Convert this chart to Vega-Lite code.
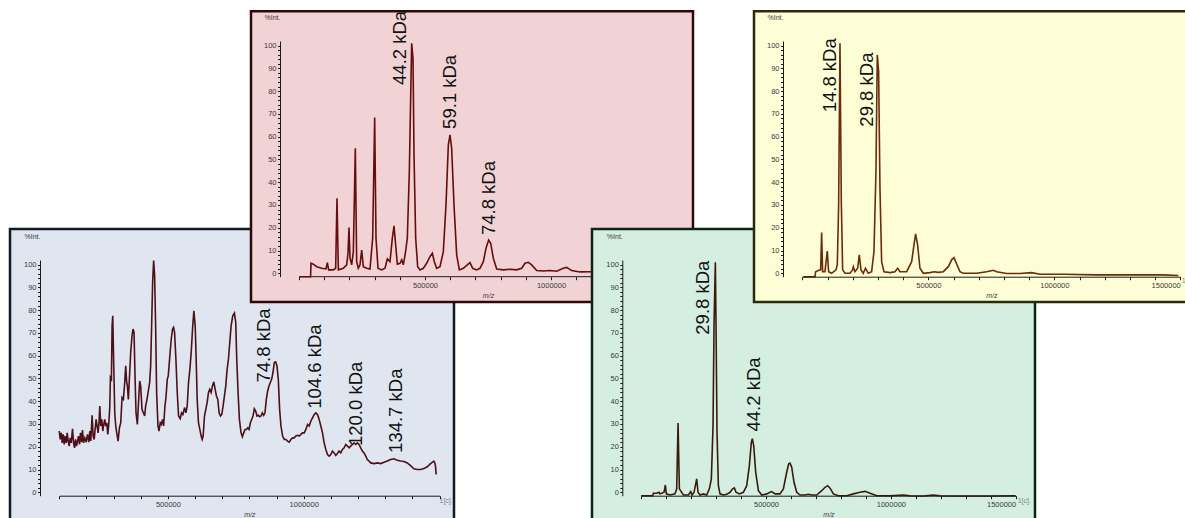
{
"$schema": "https://vega.github.io/schema/vega-lite/v6.json",
"background": "white",
"width": 1185, "height": 508, "autosize": "none",
"padding": {"left": 0, "top": 10, "right": 0, "bottom": 0},
"config": {"font": "Liberation Sans", "view": {"stroke": null},
 "axis": {"domainColor": "#1a1a1a", "tickColor": "#1a1a1a", "domainWidth": 1, "tickWidth": 1, "labelFontSize": 7.5, "labelColor": "#3a3a3a", "labelFont": "Liberation Sans", "grid": false, "titleFontWeight": "normal", "titleColor": "#3a3a3a", "titleFontSize": 7, "titleFont": "Liberation Sans"}},
"datasets": {
 "one": [{}],
 "pink": [{"mz":1300,"i":-1.5},{"mz":46000,"i":-1.5},{"mz":47600,"i":4.4},{"mz":56900,"i":4.0},{"mz":70100,"i":2.9},{"mz":89900,"i":2.2},{"mz":107100,"i":1.9},{"mz":112400,"i":4.7},{"mz":117700,"i":1.5},{"mz":136200,"i":1.5},{"mz":145500,"i":2.2},{"mz":150800,"i":32.9},{"mz":156100,"i":1.5},{"mz":175900,"i":2.2},{"mz":189200,"i":3.7},{"mz":194400,"i":8.8},{"mz":198400,"i":20.1},{"mz":202400,"i":6.6},{"mz":209000,"i":3.7},{"mz":215600,"i":9.5},{"mz":223500,"i":54.9},{"mz":228800,"i":5.1},{"mz":235400,"i":2.2},{"mz":242100,"i":3.7},{"mz":248700,"i":10.2},{"mz":255300,"i":2.9},{"mz":268500,"i":2.2},{"mz":281700,"i":1.9},{"mz":292300,"i":15.4},{"mz":300300,"i":68.4},{"mz":305600,"i":15.4},{"mz":313500,"i":2.2},{"mz":328000,"i":1.5},{"mz":341300,"i":2.2},{"mz":350500,"i":6.3},{"mz":361100,"i":5.1},{"mz":370400,"i":15.4},{"mz":377000,"i":20.8},{"mz":383600,"i":12.4},{"mz":390200,"i":4.0},{"mz":400800,"i":4.4},{"mz":407400,"i":5.9},{"mz":414000,"i":3.7},{"mz":422000,"i":8.8},{"mz":429900,"i":15.4},{"mz":437800,"i":44.7},{"mz":447100,"i":101},{"mz":452400,"i":94.4},{"mz":456400,"i":52.0},{"mz":463000,"i":15.4},{"mz":470900,"i":2.9},{"mz":480200,"i":1.5},{"mz":493400,"i":2.2},{"mz":506600,"i":4.4},{"mz":519800,"i":7.3},{"mz":529100,"i":8.8},{"mz":537000,"i":5.1},{"mz":546300,"i":2.2},{"mz":559500,"i":2.9},{"mz":572700,"i":9.5},{"mz":583300,"i":30.0},{"mz":592600,"i":56.4},{"mz":599200,"i":60.8},{"mz":605800,"i":54.9},{"mz":615100,"i":30.0},{"mz":625700,"i":8.1},{"mz":636300,"i":1.5},{"mz":652100,"i":2.2},{"mz":668000,"i":3.7},{"mz":678600,"i":4.7},{"mz":689200,"i":2.2},{"mz":705000,"i":1.5},{"mz":718200,"i":2.2},{"mz":731500,"i":5.1},{"mz":742100,"i":11.0},{"mz":752600,"i":14.6},{"mz":760600,"i":13.2},{"mz":771200,"i":6.6},{"mz":784400,"i":1.9},{"mz":810900,"i":1.5},{"mz":837300,"i":1.8},{"mz":863800,"i":1.5},{"mz":883600,"i":2.2},{"mz":896800,"i":4.4},{"mz":910100,"i":4.8},{"mz":923300,"i":3.7},{"mz":943100,"i":1.2},{"mz":969600,"i":1.0},{"mz":996000,"i":1.2},{"mz":1022500,"i":0.9},{"mz":1048900,"i":2.2},{"mz":1062200,"i":2.6},{"mz":1082000,"i":1.2},{"mz":1115100,"i":0.6},{"mz":1154800,"i":0.7},{"mz":1200000,"i":0.7},{"mz":1300000,"i":0.6},{"mz":1400000,"i":0.5},{"mz":1500000,"i":0.4}],
 "pinkLab": [{"mz":400800,"i":82.7,"t":"44.2 kDa"},{"mz":600500,"i":63.4,"t":"59.1 kDa"},{"mz":755300,"i":16.8,"t":"74.8 kDa"}],
 "yellow": [{"mz":4000,"i":-1.5},{"mz":50300,"i":-1.5},{"mz":52900,"i":0.7},{"mz":70100,"i":1.5},{"mz":72800,"i":1.5},{"mz":76700,"i":17.9},{"mz":80700,"i":0.7},{"mz":89900,"i":0.7},{"mz":99200,"i":9.8},{"mz":104500,"i":0.7},{"mz":116400,"i":0},{"mz":133600,"i":1.5},{"mz":138900,"i":3.7},{"mz":144200,"i":30},{"mz":149500,"i":101},{"mz":154800,"i":31.5},{"mz":160100,"i":1.5},{"mz":169300,"i":0},{"mz":189200,"i":0},{"mz":199700,"i":1.5},{"mz":202400,"i":2.9},{"mz":209000,"i":0.7},{"mz":219600,"i":2.2},{"mz":226200,"i":8.1},{"mz":232800,"i":1.5},{"mz":242100,"i":0},{"mz":250600,"i":2.2},{"mz":261900,"i":0},{"mz":275100,"i":0.7},{"mz":284400,"i":9.5},{"mz":292300,"i":44.7},{"mz":297600,"i":95.9},{"mz":302900,"i":88.6},{"mz":308200,"i":37.3},{"mz":314800,"i":5.1},{"mz":324100,"i":0.7},{"mz":347900,"i":0.3},{"mz":367700,"i":0.7},{"mz":378300,"i":2.2},{"mz":387600,"i":0.7},{"mz":414000,"i":0.7},{"mz":433900,"i":5.1},{"mz":443100,"i":12.4},{"mz":449700,"i":17.3},{"mz":457700,"i":12.4},{"mz":466900,"i":2.2},{"mz":480200,"i":0},{"mz":506600,"i":0.3},{"mz":522500,"i":0.7},{"mz":539700,"i":0.4},{"mz":559500,"i":0.7},{"mz":579400,"i":2.9},{"mz":592600,"i":5.9},{"mz":601900,"i":6.9},{"mz":611300,"i":4.4},{"mz":625700,"i":0.7},{"mz":638900,"i":0},{"mz":691800,"i":0},{"mz":731500,"i":0.7},{"mz":757900,"i":1.3},{"mz":771200,"i":0.7},{"mz":810900,"i":-0.1},{"mz":863800,"i":-0.1},{"mz":910100,"i":0.3},{"mz":943100,"i":-0.4},{"mz":1035700,"i":-0.4},{"mz":1168000,"i":-0.7},{"mz":1300300,"i":-0.7},{"mz":1432600,"i":-0.7},{"mz":1492100,"i":-1.0}],
 "yellowLab": [{"mz":111100,"i":70.7,"t":"14.8 kDa"},{"mz":256600,"i":64.4,"t":"29.8 kDa"}],
 "blue": [{"mz":99800,"i":26.9},{"mz":103400,"i":23.2},{"mz":107100,"i":26.1},{"mz":110800,"i":21.7},{"mz":114400,"i":25.4},{"mz":118100,"i":21.0},{"mz":121800,"i":24.7},{"mz":125500,"i":21.7},{"mz":129100,"i":26.1},{"mz":132800,"i":22.5},{"mz":136500,"i":20.3},{"mz":140100,"i":23.9},{"mz":143800,"i":21.7},{"mz":148700,"i":27.9},{"mz":152400,"i":21.7},{"mz":156100,"i":19.5},{"mz":159700,"i":23.2},{"mz":163400,"i":20.3},{"mz":167100,"i":22.5},{"mz":170700,"i":24.7},{"mz":174400,"i":21.0},{"mz":178100,"i":26.1},{"mz":181800,"i":22.0},{"mz":185400,"i":27.3},{"mz":189100,"i":21.7},{"mz":194000,"i":23.9},{"mz":198900,"i":22.0},{"mz":203800,"i":25.4},{"mz":208700,"i":22.0},{"mz":212400,"i":26.9},{"mz":216000,"i":22.5},{"mz":220900,"i":33.8},{"mz":224600,"i":24.7},{"mz":228300,"i":23.2},{"mz":231900,"i":27.6},{"mz":235600,"i":32.0},{"mz":239300,"i":29.1},{"mz":243000,"i":26.1},{"mz":246600,"i":31.3},{"mz":249100,"i":37.9},{"mz":252800,"i":29.1},{"mz":256400,"i":32.0},{"mz":260100,"i":26.9},{"mz":263800,"i":29.8},{"mz":267400,"i":32.0},{"mz":271100,"i":29.1},{"mz":274800,"i":30.5},{"mz":278500,"i":25.4},{"mz":282100,"i":29.8},{"mz":285800,"i":37.2},{"mz":288200,"i":50.4},{"mz":291900,"i":49.6},{"mz":294400,"i":73.1},{"mz":296800,"i":77.5},{"mz":300500,"i":55.5},{"mz":304200,"i":34.9},{"mz":307800,"i":29.1},{"mz":311500,"i":26.1},{"mz":316400,"i":22.5},{"mz":321300,"i":28.3},{"mz":326200,"i":30.5},{"mz":331100,"i":41.6},{"mz":336000,"i":40.8},{"mz":340900,"i":48.2},{"mz":344600,"i":55.5},{"mz":348200,"i":48.2},{"mz":350700,"i":46.7},{"mz":354300,"i":40.8},{"mz":358000,"i":49.6},{"mz":362900,"i":61.4},{"mz":367800,"i":68.7},{"mz":371500,"i":71.7},{"mz":375200,"i":70.2},{"mz":378800,"i":51.1},{"mz":382500,"i":34.9},{"mz":387400,"i":29.8},{"mz":392300,"i":40.8},{"mz":396000,"i":48.9},{"mz":399600,"i":46.7},{"mz":404500,"i":36.4},{"mz":409400,"i":34.9},{"mz":414300,"i":33.5},{"mz":418000,"i":37.9},{"mz":422900,"i":40.8},{"mz":427800,"i":44.5},{"mz":432700,"i":48.2},{"mz":436400,"i":55.5},{"mz":440000,"i":73.1},{"mz":443700,"i":92.2},{"mz":447400,"i":101.8},{"mz":451000,"i":95.2},{"mz":454700,"i":73.1},{"mz":458400,"i":43.8},{"mz":463300,"i":29.1},{"mz":467000,"i":26.9},{"mz":471800,"i":30.5},{"mz":475500,"i":29.8},{"mz":480400,"i":32.0},{"mz":484100,"i":29.1},{"mz":489000,"i":37.9},{"mz":492700,"i":41.6},{"mz":497600,"i":49.6},{"mz":501200,"i":51.1},{"mz":506100,"i":58.4},{"mz":512200,"i":67.3},{"mz":517100,"i":71.7},{"mz":520800,"i":72.4},{"mz":524500,"i":70.2},{"mz":529400,"i":58.4},{"mz":534300,"i":43.8},{"mz":539200,"i":33.5},{"mz":545300,"i":32.3},{"mz":550200,"i":34.9},{"mz":555100,"i":34.2},{"mz":561200,"i":37.2},{"mz":566100,"i":34.9},{"mz":571000,"i":37.9},{"mz":575900,"i":48.2},{"mz":580800,"i":54.0},{"mz":585700,"i":61.4},{"mz":590600,"i":71.7},{"mz":595500,"i":79.7},{"mz":600400,"i":73.1},{"mz":604000,"i":58.4},{"mz":607700,"i":40.8},{"mz":612600,"i":30.5},{"mz":617500,"i":27.6},{"mz":622400,"i":24.7},{"mz":626100,"i":23.2},{"mz":629700,"i":24.7},{"mz":634600,"i":33.5},{"mz":639500,"i":36.4},{"mz":644400,"i":39.4},{"mz":649300,"i":43.8},{"mz":654200,"i":45.2},{"mz":659100,"i":43.8},{"mz":664000,"i":46.7},{"mz":668900,"i":48.5},{"mz":673800,"i":45.2},{"mz":678700,"i":42.3},{"mz":683600,"i":40.8},{"mz":688500,"i":34.9},{"mz":693400,"i":33.5},{"mz":698300,"i":34.2},{"mz":703200,"i":37.9},{"mz":708100,"i":42.3},{"mz":713000,"i":46.7},{"mz":717900,"i":54.0},{"mz":722800,"i":58.4},{"mz":727700,"i":65.8},{"mz":732600,"i":73.1},{"mz":738700,"i":77.5},{"mz":744800,"i":78.7},{"mz":749700,"i":74.6},{"mz":753400,"i":58.4},{"mz":758300,"i":43.8},{"mz":763200,"i":32.0},{"mz":769300,"i":26.1},{"mz":774200,"i":24.4},{"mz":779100,"i":26.1},{"mz":784000,"i":27.6},{"mz":788900,"i":27.6},{"mz":793800,"i":28.3},{"mz":798700,"i":27.6},{"mz":803600,"i":30.5},{"mz":808400,"i":32.0},{"mz":813300,"i":33.5},{"mz":818200,"i":36.7},{"mz":823100,"i":35.7},{"mz":828000,"i":33.5},{"mz":832900,"i":33.8},{"mz":837800,"i":33.2},{"mz":842700,"i":33.5},{"mz":847600,"i":34.9},{"mz":852500,"i":33.8},{"mz":857400,"i":34.9},{"mz":862300,"i":40.8},{"mz":867200,"i":44.5},{"mz":872100,"i":46.7},{"mz":877000,"i":48.2},{"mz":881900,"i":49.6},{"mz":886800,"i":52.6},{"mz":891700,"i":57.0},{"mz":896600,"i":57.3},{"mz":901500,"i":55.5},{"mz":906400,"i":49.6},{"mz":911300,"i":36.4},{"mz":916200,"i":29.1},{"mz":922300,"i":24.7},{"mz":928400,"i":23.2},{"mz":934500,"i":23.2},{"mz":940600,"i":22.5},{"mz":946800,"i":22.0},{"mz":952900,"i":23.2},{"mz":959000,"i":23.9},{"mz":965100,"i":23.9},{"mz":971200,"i":24.7},{"mz":977400,"i":25.0},{"mz":983500,"i":24.7},{"mz":989600,"i":25.4},{"mz":995700,"i":26.1},{"mz":1001800,"i":26.1},{"mz":1008000,"i":27.6},{"mz":1014100,"i":29.8},{"mz":1020200,"i":29.1},{"mz":1026300,"i":31.3},{"mz":1032400,"i":32.7},{"mz":1038600,"i":34.2},{"mz":1044700,"i":34.9},{"mz":1050800,"i":34.2},{"mz":1056900,"i":32.0},{"mz":1063000,"i":29.1},{"mz":1069200,"i":26.1},{"mz":1075300,"i":21.7},{"mz":1081400,"i":18.8},{"mz":1087500,"i":16.6},{"mz":1093600,"i":15.9},{"mz":1099800,"i":16.6},{"mz":1105900,"i":18.1},{"mz":1112000,"i":17.3},{"mz":1118100,"i":16.2},{"mz":1124200,"i":17.0},{"mz":1130400,"i":18.1},{"mz":1136500,"i":17.3},{"mz":1142600,"i":18.8},{"mz":1148700,"i":19.5},{"mz":1154800,"i":21.0},{"mz":1161000,"i":20.3},{"mz":1167100,"i":19.5},{"mz":1173200,"i":20.3},{"mz":1179300,"i":21.0},{"mz":1185400,"i":21.7},{"mz":1191600,"i":21.0},{"mz":1197700,"i":21.7},{"mz":1203800,"i":21.0},{"mz":1209900,"i":19.5},{"mz":1216000,"i":18.1},{"mz":1222200,"i":17.3},{"mz":1228300,"i":15.9},{"mz":1234400,"i":14.4},{"mz":1240500,"i":13.7},{"mz":1246600,"i":12.9},{"mz":1258900,"i":12.6},{"mz":1271100,"i":12.9},{"mz":1283400,"i":12.6},{"mz":1295600,"i":13.2},{"mz":1307800,"i":13.7},{"mz":1320100,"i":14.4},{"mz":1332300,"i":14.7},{"mz":1344600,"i":14.1},{"mz":1356800,"i":13.7},{"mz":1369000,"i":13.5},{"mz":1381300,"i":12.9},{"mz":1393500,"i":11.7},{"mz":1405800,"i":10.3},{"mz":1418000,"i":10.0},{"mz":1430200,"i":10.0},{"mz":1442500,"i":10.4},{"mz":1454700,"i":11.2},{"mz":1467000,"i":12.6},{"mz":1479200,"i":13.7},{"mz":1482900,"i":12.9},{"mz":1485300,"i":11.5},{"mz":1487800,"i":7.8}],
 "blueLab": [{"mz":852500,"i":48.2,"t":"74.8 kDa"},{"mz":1042200,"i":36.7,"t":"104.6 kDa"},{"mz":1194000,"i":20.3,"t":"120.0 kDa"},{"mz":1339700,"i":17.3,"t":"134.7 kDa"}],
 "green": [{"mz":0,"i":-1.5},{"mz":46100,"i":-1.5},{"mz":48700,"i":-0.4},{"mz":62100,"i":-0.4},{"mz":71400,"i":0},{"mz":75400,"i":-0.7},{"mz":82100,"i":-0.4},{"mz":91500,"i":0},{"mz":96800,"i":3.2},{"mz":100800,"i":-0.7},{"mz":115500,"i":-1.2},{"mz":135500,"i":-0.7},{"mz":142200,"i":1.5},{"mz":147600,"i":30.4},{"mz":152900,"i":1.5},{"mz":168900,"i":-1.2},{"mz":188900,"i":-1.2},{"mz":198300,"i":0.3},{"mz":203600,"i":-1.2},{"mz":211600,"i":0},{"mz":222300,"i":5.9},{"mz":227600,"i":0},{"mz":235600,"i":-1.2},{"mz":249000,"i":-0.7},{"mz":262300,"i":-1.2},{"mz":273000,"i":1.5},{"mz":281000,"i":5.9},{"mz":287700,"i":29.3},{"mz":291700,"i":73.3},{"mz":297000,"i":101},{"mz":299700,"i":73.3},{"mz":303700,"i":26.4},{"mz":309100,"i":2.9},{"mz":315700,"i":-0.7},{"mz":329100,"i":-1.2},{"mz":342400,"i":-0.9},{"mz":355800,"i":0},{"mz":366400,"i":1.5},{"mz":373100,"i":1.9},{"mz":379800,"i":0},{"mz":393200,"i":-0.7},{"mz":409200,"i":0},{"mz":422600,"i":2.9},{"mz":433200,"i":11.7},{"mz":441200,"i":22.0},{"mz":445200,"i":23.5},{"mz":450600,"i":20.5},{"mz":458600,"i":8.8},{"mz":469500,"i":0.7},{"mz":482900,"i":-1.2},{"mz":502900,"i":-0.7},{"mz":516000,"i":0},{"mz":522700,"i":0.3},{"mz":536000,"i":-0.7},{"mz":556100,"i":-0.7},{"mz":569400,"i":1.5},{"mz":582800,"i":8.8},{"mz":590800,"i":12.5},{"mz":596100,"i":12.8},{"mz":602800,"i":11.0},{"mz":612100,"i":4.4},{"mz":622800,"i":0},{"mz":636200,"i":-1.2},{"mz":656200,"i":-1.2},{"mz":669600,"i":-0.9},{"mz":683000,"i":-1.2},{"mz":703000,"i":-1.2},{"mz":723000,"i":0.7},{"mz":736400,"i":2.2},{"mz":747100,"i":2.9},{"mz":756500,"i":1.8},{"mz":769800,"i":-0.7},{"mz":789800,"i":-1.5},{"mz":823200,"i":-1.5},{"mz":849900,"i":-0.7},{"mz":876600,"i":0},{"mz":896600,"i":0.4},{"mz":916700,"i":-0.4},{"mz":943400,"i":-1.5},{"mz":996800,"i":-1.5},{"mz":1050200,"i":-1.2},{"mz":1076900,"i":-1.5},{"mz":1130000,"i":-1.6},{"mz":1170100,"i":-1.2},{"mz":1196800,"i":-1.5},{"mz":1263600,"i":-1.6},{"mz":1397100,"i":-1.6},{"mz":1500000,"i":-1.5}],
 "greenLab": [{"mz":247600,"i":69.2,"t":"29.8 kDa"},{"mz":453300,"i":26.7,"t":"44.2 kDa"}],
 "cNote": [{"mz":1500000,"i":-3.8,"t":"1[c]."}],
 "cNoteY": [{"mz":1500000,"i":-3.4,"t":"1[c]."}]
},
"resolve": {"scale": {"x": "independent", "y": "independent"}, "axis": {"x": "independent", "y": "independent"}},
"layer": [
 {"layer": [
  {"data": {"name": "one"}, "mark": {"type": "rect", "fill": "#DFE6F0", "clip": true},
   "encoding": {
    "x": {"datum": -81537, "type": "quantitative", "scale": {"domain": [100000, 1500000], "range": [59.3, 439.5], "nice": false, "zero": false},
     "axis": {"orient": "bottom", "offset": -22.3, "zindex": 1, "tickCount": 100, "labelOverlap": false, "values": [100000,200000,300000,400000,500000,600000,700000,800000,900000,1000000,1100000,1200000,1300000,1400000,1500000], "labelExpr": "datum.value % 500000 === 0 && datum.value < 1500000 ? format(datum.value, 'd') : ''", "tickSize": 3, "labelPadding": 1.5, "title": "m/z", "titleFontStyle": "italic", "titleY": 18.3, "titleBaseline": "middle"}},
    "x2": {"datum": 1553404},
    "y": {"datum": 115.61, "type": "quantitative", "scale": {"domain": [-1.5, 102], "range": [485.7, 250], "nice": false, "zero": false},
     "axis": {"orient": "left", "offset": -40, "zindex": 1, "tickCount": 100, "labelOverlap": false, "values": [0,2,4,6,8,10,12,14,16,18,20,22,24,26,28,30,32,34,36,38,40,42,44,46,48,50,52,54,56,58,60,62,64,66,68,70,72,74,76,78,80,82,84,86,88,90,92,94,96,98,100], "labelExpr": "datum.value % 10 === 0 ? format(datum.value, 'd') : ''", "tickSize": 2.5, "labelPadding": 1.5, "title": "%Int.", "titleAngle": 0, "titleAlign": "right", "titleBaseline": "middle", "titleX": 0, "titleY": 226.7}},
    "y2": {"datum": -20.95}}},
  {"data": {"name": "blue"}, "mark": {"type": "line", "color": "#4d1018", "strokeWidth": 1.6},
   "encoding": {"x": {"field": "mz", "type": "quantitative"}, "y": {"field": "i", "type": "quantitative"}}},
  {"data": {"name": "blueLab"}, "mark": {"type": "text", "angle": 270, "align": "left", "baseline": "middle", "fontSize": 18.5, "color": "#111111", "clip": true},
   "encoding": {"x": {"field": "mz", "type": "quantitative"}, "y": {"field": "i", "type": "quantitative"}, "text": {"field": "t"}}},
  {"data": {"name": "cNote"}, "mark": {"type": "text", "align": "left", "baseline": "middle", "fontSize": 7, "color": "#7a8590", "clip": true},
   "encoding": {"x": {"field": "mz", "type": "quantitative"}, "y": {"field": "i", "type": "quantitative"}, "text": {"field": "t"}}},
  {"data": {"name": "one"}, "mark": {"type": "rect", "fill": null, "stroke": "#121a24", "strokeWidth": 2.5, "clip": true},
   "encoding": {"x": {"datum": -81537, "type": "quantitative"}, "x2": {"datum": 1553404}, "y": {"datum": 115.61, "type": "quantitative"}, "y2": {"datum": -20.95}}}
 ]},
 {"layer": [
  {"data": {"name": "one"}, "mark": {"type": "rect", "fill": "#F2D3D5", "clip": true},
   "encoding": {
    "x": {"datum": -190476, "type": "quantitative", "scale": {"domain": [0, 1500000], "range": [299, 677], "nice": false, "zero": false},
     "axis": {"orient": "bottom", "offset": -241.3, "zindex": 1, "tickCount": 100, "domain": false, "labelOverlap": false, "values": [0,100000,200000,300000,400000,500000,600000,700000,800000,900000,1000000,1100000], "labelExpr": "datum.value > 0 && datum.value % 500000 === 0 ? format(datum.value, 'd') : ''", "tickSize": 3, "labelPadding": 1.5, "title": "m/z", "titleFontStyle": "italic", "titleY": 18.3, "titleBaseline": "middle"}},
    "x2": {"datum": 1563492},
    "y": {"datum": 115.09, "type": "quantitative", "scale": {"domain": [-1.5, 102], "range": [266.7, 31], "nice": false, "zero": false},
     "axis": {"orient": "left", "offset": -280, "zindex": 1, "tickCount": 100, "labelOverlap": false, "values": [0,2,4,6,8,10,12,14,16,18,20,22,24,26,28,30,32,34,36,38,40,42,44,46,48,50,52,54,56,58,60,62,64,66,68,70,72,74,76,78,80,82,84,86,88,90,92,94,96,98,100], "labelExpr": "datum.value % 10 === 0 ? format(datum.value, 'd') : ''", "tickSize": 2.5, "labelPadding": 1.5, "title": "%Int.", "titleAngle": 0, "titleAlign": "right", "titleBaseline": "middle", "titleX": 0, "titleY": 7.7}},
    "y2": {"datum": -12.61}}},
  {"data": {"name": "one"}, "mark": {"type": "rule", "color": "#1a1a1a", "strokeWidth": 1},
   "encoding": {"x": {"datum": 0, "type": "quantitative"}, "x2": {"datum": 1500000}, "y": {"datum": -1.5, "type": "quantitative"}}},
  {"data": {"name": "pink"}, "mark": {"type": "line", "color": "#680c0c", "strokeWidth": 1.6},
   "encoding": {"x": {"field": "mz", "type": "quantitative"}, "y": {"field": "i", "type": "quantitative"}}},
  {"data": {"name": "pinkLab"}, "mark": {"type": "text", "angle": 270, "align": "left", "baseline": "middle", "fontSize": 18.5, "color": "#111111", "clip": true},
   "encoding": {"x": {"field": "mz", "type": "quantitative"}, "y": {"field": "i", "type": "quantitative"}, "text": {"field": "t"}}},
  {"data": {"name": "one"}, "mark": {"type": "rect", "fill": null, "stroke": "#2e0808", "strokeWidth": 2.5, "clip": true},
   "encoding": {"x": {"datum": -190476, "type": "quantitative"}, "x2": {"datum": 1563492}, "y": {"datum": 115.09, "type": "quantitative"}, "y2": {"datum": -12.61}}}
 ]},
 {"layer": [
  {"data": {"name": "one"}, "mark": {"type": "rect", "fill": "#D4EFE1", "clip": true},
   "encoding": {
    "x": {"datum": -197061, "type": "quantitative", "scale": {"domain": [0, 1500000], "range": [641.2, 1015.7], "nice": false, "zero": false},
     "axis": {"orient": "bottom", "offset": -22.3, "zindex": 1, "tickCount": 100, "labelOverlap": false, "labelFlush": true, "values": [0,100000,200000,300000,400000,500000,600000,700000,800000,900000,1000000,1100000,1200000,1300000,1400000,1500000], "labelExpr": "datum.value > 0 && datum.value % 500000 === 0 ? format(datum.value, 'd') : ''", "tickSize": 3, "labelPadding": 1.5, "title": "m/z", "titleFontStyle": "italic", "titleY": 18.3, "titleBaseline": "middle"}},
    "x2": {"datum": 1577287},
    "y": {"datum": 115.61, "type": "quantitative", "scale": {"domain": [-1.5, 102], "range": [485.7, 250], "nice": false, "zero": false},
     "axis": {"orient": "left", "offset": -622.3, "zindex": 1, "tickCount": 100, "labelOverlap": false, "values": [0,2,4,6,8,10,12,14,16,18,20,22,24,26,28,30,32,34,36,38,40,42,44,46,48,50,52,54,56,58,60,62,64,66,68,70,72,74,76,78,80,82,84,86,88,90,92,94,96,98,100], "labelExpr": "datum.value % 10 === 0 ? format(datum.value, 'd') : ''", "tickSize": 2.5, "labelPadding": 1.5, "title": "%Int.", "titleAngle": 0, "titleAlign": "right", "titleBaseline": "middle", "titleX": 0, "titleY": 226.7}},
    "y2": {"datum": -20.95}}},
  {"data": {"name": "green"}, "mark": {"type": "line", "color": "#3b1a0b", "strokeWidth": 1.6},
   "encoding": {"x": {"field": "mz", "type": "quantitative"}, "y": {"field": "i", "type": "quantitative"}}},
  {"data": {"name": "greenLab"}, "mark": {"type": "text", "angle": 270, "align": "left", "baseline": "middle", "fontSize": 18.5, "color": "#111111", "clip": true},
   "encoding": {"x": {"field": "mz", "type": "quantitative"}, "y": {"field": "i", "type": "quantitative"}, "text": {"field": "t"}}},
  {"data": {"name": "cNote"}, "mark": {"type": "text", "align": "left", "baseline": "middle", "fontSize": 7, "color": "#7a8a80", "dx": 2, "clip": true},
   "encoding": {"x": {"field": "mz", "type": "quantitative"}, "y": {"field": "i", "type": "quantitative"}, "text": {"field": "t"}}},
  {"data": {"name": "one"}, "mark": {"type": "rect", "fill": null, "stroke": "#0c2416", "strokeWidth": 2.5, "clip": true},
   "encoding": {"x": {"datum": -197061, "type": "quantitative"}, "x2": {"datum": 1577287}, "y": {"datum": 115.61, "type": "quantitative"}, "y2": {"datum": -20.95}}}
 ]},
 {"layer": [
  {"data": {"name": "one"}, "mark": {"type": "rect", "fill": "#FEFED6", "clip": true},
   "encoding": {
    "x": {"datum": -191667, "type": "quantitative", "scale": {"domain": [0, 1500000], "range": [802.3, 1180.3], "nice": false, "zero": false},
     "axis": {"orient": "bottom", "offset": -241.3, "zindex": 1, "tickCount": 100, "labelOverlap": false, "labelFlush": true, "values": [0,100000,200000,300000,400000,500000,600000,700000,800000,900000,1000000,1100000,1200000,1300000,1400000,1500000], "labelExpr": "datum.value > 0 && datum.value % 500000 === 0 ? format(datum.value, 'd') : ''", "tickSize": 3, "labelPadding": 1.5, "title": "m/z", "titleFontStyle": "italic", "titleY": 18.3, "titleBaseline": "middle"}},
    "x2": {"datum": 1578175},
    "y": {"datum": 115.09, "type": "quantitative", "scale": {"domain": [-1.5, 102], "range": [266.7, 31], "nice": false, "zero": false},
     "axis": {"orient": "left", "offset": -783, "zindex": 1, "tickCount": 100, "labelOverlap": false, "values": [0,2,4,6,8,10,12,14,16,18,20,22,24,26,28,30,32,34,36,38,40,42,44,46,48,50,52,54,56,58,60,62,64,66,68,70,72,74,76,78,80,82,84,86,88,90,92,94,96,98,100], "labelExpr": "datum.value % 10 === 0 ? format(datum.value, 'd') : ''", "tickSize": 2.5, "labelPadding": 1.5, "title": "%Int.", "titleAngle": 0, "titleAlign": "right", "titleBaseline": "middle", "titleX": 0, "titleY": 7.7}},
    "y2": {"datum": -12.61}}},
  {"data": {"name": "yellow"}, "mark": {"type": "line", "color": "#6b2c0a", "strokeWidth": 1.6},
   "encoding": {"x": {"field": "mz", "type": "quantitative"}, "y": {"field": "i", "type": "quantitative"}}},
  {"data": {"name": "yellowLab"}, "mark": {"type": "text", "angle": 270, "align": "left", "baseline": "middle", "fontSize": 18.5, "color": "#111111", "clip": true},
   "encoding": {"x": {"field": "mz", "type": "quantitative"}, "y": {"field": "i", "type": "quantitative"}, "text": {"field": "t"}}},
  {"data": {"name": "cNoteY"}, "mark": {"type": "text", "align": "left", "baseline": "middle", "fontSize": 7, "color": "#808070", "dx": 1.5, "clip": true},
   "encoding": {"x": {"field": "mz", "type": "quantitative"}, "y": {"field": "i", "type": "quantitative"}, "text": {"field": "t"}}},
  {"data": {"name": "one"}, "mark": {"type": "rect", "fill": null, "stroke": "#2a2a0c", "strokeWidth": 2.5, "clip": true},
   "encoding": {"x": {"datum": -191667, "type": "quantitative"}, "x2": {"datum": 1578175}, "y": {"datum": 115.09, "type": "quantitative"}, "y2": {"datum": -12.61}}}
 ]}
]
}
